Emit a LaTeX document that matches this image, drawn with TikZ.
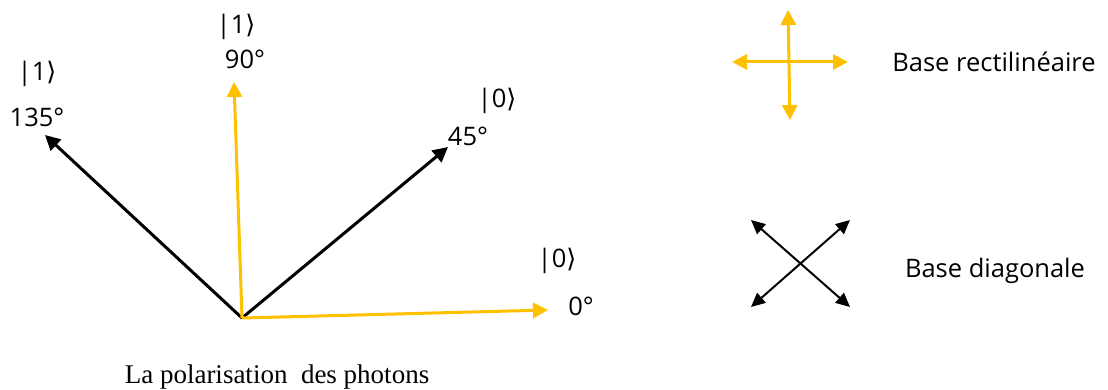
\documentclass[tikz,border=0pt]{standalone}
\usepackage{fontspec}
\setmainfont{Open Sans}
\newfontfamily\captionfont{Liberation Serif}
\newfontfamily\symfont{DejaVu Sans}
\usetikzlibrary{arrows.meta}

\definecolor{gold}{HTML}{FFC000}
\newcommand{\ketlbl}[1]{|#1{\symfont ⟩}}

\begin{document}
\begin{tikzpicture}[
    x=1pt, y=-1pt,
    >={Triangle[length=15pt,width=15pt]},
    every node/.style={font=\fontsize{25.5}{28}\selectfont, inner sep=0pt},
    pol/.style={->, line width=3pt},
    basis/.style={<->, line width=3pt}
]
\useasboundingbox (0,0) rectangle (1108,390);

% Polarisation directions
\coordinate (O) at (242,318);
\coordinate (d0) at (548,310);
\coordinate (d45) at (448,147);
\coordinate (d90) at (234,82);
\coordinate (d135) at (45,135);

\draw[pol, black] (O) -- (d135);
\draw[pol, black] (O) -- (d45);
\draw[pol, gold] (O) -- (d90);
\draw[pol, gold] (O) -- (d0);

% Angles and states
\foreach \n/\x/\y/\t in {a135/37/117/135, a90/245/59/90, a45/468/136/45, a0/581/306/0}
    \node (\n) at (\x,\y) {\t°};
\foreach \n/\x/\y/\t in {k135/37/74/1, k90/236/27/1, k45/497/101/0, k0/557/261/0}
    \node (\n) at (\x,\y) {\ketlbl{\t}};

% Rectilinear basis
\coordinate (rN) at (788,10);
\coordinate (rS) at (790,120);
\coordinate (rW) at (732,62);
\coordinate (rE) at (848,62);
\draw[basis, gold] (rS) -- (rN);
\draw[basis, gold] (rW) -- (rE);
\node (rect) at (994,62) {Base rectilinéaire};

% Diagonal basis
\coordinate (dNW) at (751,220);
\coordinate (dNE) at (850,220);
\coordinate (dSW) at (751,307);
\coordinate (dSE) at (850,307);
\begin{scope}[>={Triangle[length=14pt,width=13pt]}]
    \draw[basis, line width=2pt] (dSW) -- (dNE);
    \draw[basis, line width=2pt] (dNW) -- (dSE);
\end{scope}
\node (diag) at (995,271) {Base diagonale};

% Caption
\node[font=\captionfont\fontsize{27}{30}\selectfont] (cap) at (277,377) {La polarisation\ \ des photons};

\end{tikzpicture}
\end{document}
